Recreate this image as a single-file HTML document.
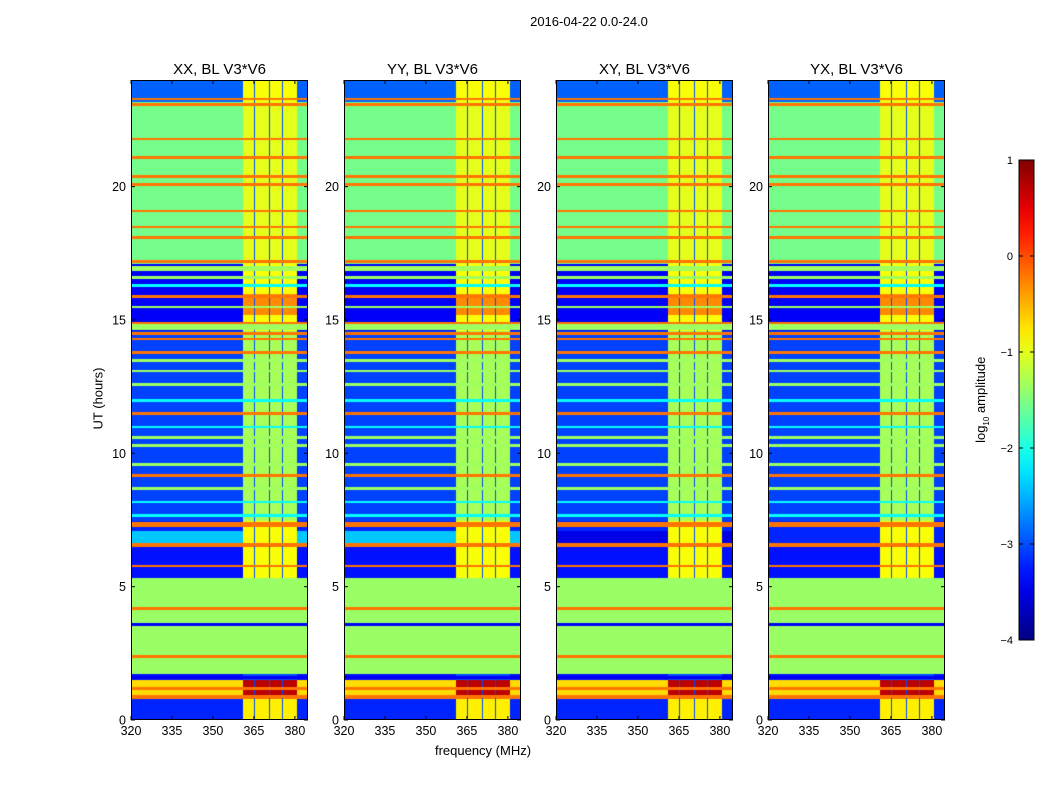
<!DOCTYPE html>
<html><head><meta charset="utf-8"><style>
body{margin:0;background:#fff;font-family:"Liberation Sans",sans-serif;}
#root{position:relative;width:1050px;height:800px;overflow:hidden;background:#fff}
.t{position:absolute;white-space:nowrap;color:#000}
canvas{position:absolute}
svg{position:absolute;left:0;top:0}
</style></head><body>
<div id="root">
<div class="t" style="left:489px;top:14px;width:200px;text-align:center;font-size:13px">2016-04-22 0.0-24.0</div>
<div class="t" style="left:383px;top:743px;width:200px;text-align:center;font-size:13px">frequency (MHz)</div>
<div class="t" style="left:48px;top:391px;width:100px;text-align:center;font-size:13px;transform:rotate(-90deg)">UT (hours)</div>
<div class="t" style="left:922px;top:391px;width:120px;text-align:center;font-size:13px;transform:rotate(-90deg)">log<sub style="font-size:8px">10</sub> amplitude</div>
<svg id="svg" width="1050" height="800"></svg>
</div>
<script>
const panelTitles=["XX, BL V3*V6","YY, BL V3*V6","XY, BL V3*V6","YX, BL V3*V6"];
const panelLeft=[131,344,556,768];
const xTicks=[320,335,350,365,380];
const yTicks=[0,5,10,15,20];
const cbTicks=[1,0,-1,-2,-3,-4];
// time segments: start hour, end hour, off-band log amp, in-band log amp
const segStart=[0,0.8,0.95,1.5,1.75,5.35,6.5,6.65,7.1,7.5,14.6,15.2,16.0,17.1,23.2];
const segEnd=[0.8,0.95,1.5,1.75,5.35,6.5,6.65,7.1,7.5,14.6,15.2,16.0,17.1,23.2,24];
const segOff=[-3.2,-0.2,-0.7,-3.3,-1.37,-3.3,-0.2,-2.4,-3.2,-3.05,-3.4,-3.4,-3.4,-1.55,-2.9];
const segBand=[-0.8,-0.2,0.7,-3.0,-1.37,-0.9,-0.2,-0.9,-0.9,-1.3,-0.9,-0.3,-0.9,-1.0,-0.9];
// per-panel off-band level for 6.65-7.1 block (XX,YY,XY,YX)
const panelCyanBlock=[-2.4,-2.4,-3.5,-3.2];
// bright band frequency range and gap columns
const bandLo=361.2, bandHi=380.8;
const gapFreqs=[365.4,371,375.8];
// horizontal lines (hours)
const rfiLines=[0.9,1.2,2.4,4.2,5.8,6.6,7.3,7.4,9.2,11.5,13.8,14.3,14.5,14.9,15.9,17.2,18.1,18.5,19.1,20.1,20.4,21.1,21.8,23.1,23.3];
const greenLines=[8.7,9.6,10.3,10.6,12.6,13.1,14.7,14.8,15.5,16.6,16.9,17.0,13.5];
const cyanLines=[7.7,8.2,11.0,12.0,16.3];
const blueLines=[3.6,1.6];

const X0=320,X1=384.8,Y0=0,Y1=24,PW=177,PT=80,PH=640;
function xs(f,L){return L+(f-X0)/(X1-X0)*PW}
function ys(h){return PT+PH-(h-Y0)/(Y1-Y0)*PH}
function jet(v){let n=(v+4)/5;n=Math.max(0,Math.min(1,n));
 const c=x=>Math.round(255*Math.max(0,Math.min(1,1.5-Math.abs(x))));
 return `rgb(${c(4*n-3)},${c(4*n-2)},${c(4*n-1)})`}
const NS="http://www.w3.org/2000/svg";
const svg=document.getElementById('svg');
const root=document.getElementById('root');
function mk(tag,attrs){const e=document.createElementNS(NS,tag);for(const k in attrs)e.setAttribute(k,attrs[k]);svg.appendChild(e);return e}
const dt=0.05,df=0.4;
const near=(arr,tm)=>arr.some(h=>Math.abs(h-tm)<dt*0.6);
panelLeft.forEach((L,p)=>{
 const cv=document.createElement('canvas');cv.width=PW;cv.height=PH;cv.style.left=L+'px';cv.style.top=PT+'px';
 
 
 root.insertBefore(cv,svg);
 const g=cv.getContext('2d');
 for(let t=0;t<24;t+=dt){
  const tm=t+dt/2;let si=segStart.findIndex((s,i)=>tm>=s&&tm<segEnd[i]);if(si<0)si=segStart.length-1;
  let off=segOff[si],band=segBand[si];
  if(segStart[si]===6.65)off=panelCyanBlock[p];
  const flat=segStart[si]===1.75;
  const line=near(rfiLines,tm), gl=!flat&&near(greenLines,tm), cl=!flat&&near(cyanLines,tm), bl=near(blueLines,tm);
  for(let f=X0;f<X1;f+=df){
   const fm=f+df/2;let v;
   const inBand=fm>=bandLo&&fm<=bandHi;
   const gap=gapFreqs.some(q=>Math.abs(q-fm)<0.35);
   if(line)v=-0.2;else if(bl)v=-3.4;else if(gl)v=-1.35;else if(cl)v=-2.1;
   else if(flat)v=-1.37;
   else if(inBand)v=gap?Math.min(band,-3.0):band;
   else v=off;
   g.fillStyle=jet(v);
   const x=xs(f,0),x2=xs(f+df,0),y=ys(t+dt)-PT,y2=ys(t)-PT;
   g.fillRect(Math.floor(x),Math.floor(y),Math.ceil(x2)-Math.floor(x),Math.ceil(y2)-Math.floor(y));
  }
 }
 const fr=mk('rect',{x:L+0.5,y:PT+0.5,width:PW-1,height:PH-1,fill:'none',stroke:'#000','stroke-width':1});
 
 const tt=mk('text',{x:L+PW/2,y:74,'text-anchor':'middle','font-size':15,'font-family':'Liberation Sans'});
 tt.textContent=panelTitles[p];
 
 xTicks.forEach(v=>{const x=xs(v,L);
  mk('line',{x1:x,x2:x,y1:PT+PH,y2:PT+PH-4,stroke:'#000'});mk('line',{x1:x,x2:x,y1:PT,y2:PT+4,stroke:'#000'});
  const e=mk('text',{x:x,y:735,'text-anchor':'middle','font-size':12.5,'font-family':'Liberation Sans'});e.textContent=v;
  });
 yTicks.forEach(v=>{const y=ys(v);
  mk('line',{x1:L,x2:L+4,y1:y,y2:y,stroke:'#000'});mk('line',{x1:L+PW,x2:L+PW-4,y1:y,y2:y,stroke:'#000'});
  const e=mk('text',{x:L-5,y:y+4.5,'text-anchor':'end','font-size':12.5,'font-family':'Liberation Sans'});e.textContent=v;
  });
});
// colorbar
const CBX=1019,CBW=15,CBT=160,CBB=640;
const defs=mk('defs',{});const lg=document.createElementNS(NS,'linearGradient');
lg.setAttribute('id','jet');lg.setAttribute('x1','0');lg.setAttribute('y1','1');lg.setAttribute('x2','0');lg.setAttribute('y2','0');
defs.appendChild(lg);
for(let i=0;i<=20;i++){const s=document.createElementNS(NS,'stop');s.setAttribute('offset',i/20);s.setAttribute('stop-color',jet(-4+5*i/20));lg.appendChild(s)}
const cb=mk('rect',{x:CBX,y:CBT,width:CBW,height:CBB-CBT,fill:'url(#jet)',stroke:'#000'});

const cys=v=>CBB-(v+4)/5*(CBB-CBT);
cbTicks.forEach(v=>{const y=cys(v);
 mk('line',{x1:CBX,x2:CBX+4,y1:y,y2:y,stroke:'#000'});mk('line',{x1:CBX+CBW,x2:CBX+CBW-4,y1:y,y2:y,stroke:'#000'});
 const e=mk('text',{x:CBX-6,y:y+4,'text-anchor':'end','font-size':11,'font-family':'Liberation Sans'});e.textContent=v<0?'\u2212'+(-v):v;
 });
</script>
</body></html>
